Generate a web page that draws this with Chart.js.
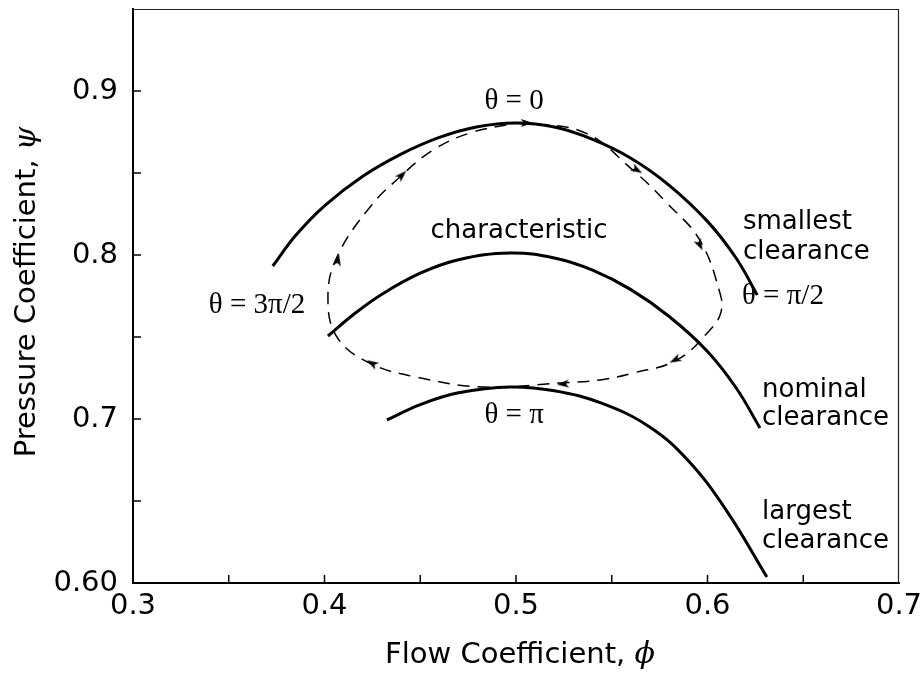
<!DOCTYPE html>
<html><head><meta charset="utf-8">
<script src="https://cdn.jsdelivr.net/npm/chart.js@4.4.1/dist/chart.umd.min.js"></script>
<style>html,body{margin:0;padding:0;background:#fff;}#wrap{width:923px;height:677px;}</style>
</head><body><div id="wrap"><canvas id="c" width="923" height="677"></canvas></div>
<script>
// ---- data ----
const smallestX = [0.373, 0.385, 0.40, 0.42, 0.44, 0.46, 0.48, 0.50, 0.52, 0.54, 0.56, 0.58, 0.60, 0.615, 0.626];
const smallestY = [0.7933, 0.812, 0.830, 0.848, 0.8615, 0.8717, 0.8782, 0.8805, 0.878, 0.8705, 0.859, 0.8425, 0.8205, 0.798, 0.7756];

const nominalX = [0.4018, 0.415, 0.43, 0.45, 0.47, 0.4969, 0.52, 0.54, 0.56, 0.58, 0.60, 0.615, 0.6274];
const nominalY = [0.7506, 0.7636, 0.7761, 0.7889, 0.7971, 0.8012, 0.7982, 0.7908, 0.7789, 0.7625, 0.7412, 0.7189, 0.6945];

const largestX = [0.4326, 0.45, 0.47, 0.4969, 0.52, 0.545, 0.57, 0.59, 0.61, 0.631];
const largestY = [0.6994, 0.7088, 0.716, 0.7195, 0.7172, 0.7095, 0.695, 0.6745, 0.644, 0.6037];

const loopX = [0.5005, 0.535, 0.561, 0.5788, 0.596, 0.6065, 0.607, 0.6013, 0.584, 0.561, 0.5439, 0.523, 0.4828, 0.448, 0.4238, 0.4065, 0.4018, 0.4065, 0.4238, 0.4394, 0.4567, 0.476, 0.5005];
const loopY = [0.8805, 0.875, 0.8518, 0.8317, 0.809, 0.7768, 0.765, 0.7543, 0.736, 0.728, 0.7238, 0.722, 0.7195, 0.7256, 0.734, 0.75, 0.7744, 0.7988, 0.8293, 0.8476, 0.864, 0.8744, 0.8805];

const arrowX = [0.5057, 0.5632, 0.596, 0.583, 0.5245, 0.4248, 0.407, 0.4405];
const arrowY = [0.8805, 0.8518, 0.8061, 0.736, 0.7213, 0.734, 0.797, 0.8488];
const arrowDir = [90, 121, 153, 243, 265, 301, 10, 45];

const xTickLabels = {"0.3": "0.3", "0.4": "0.4", "0.5": "0.5", "0.6": "0.6", "0.7": "0.7"};
const yTickLabels = {"0.6": "0.60", "0.7": "0.7", "0.8": "0.8", "0.9": "0.9"};

const xTitle = ['Flow Coefficient, ', 'ϕ'];
const yTitle = ['Pressure Coefficient, ', 'ψ'];

// ---- annotations ----
const SERIF = '29px "Liberation Serif", "DejaVu Serif", serif';
const SANS = '26px "DejaVu Sans", sans-serif';
const notes = [
  {t: 'θ = 0', x: 0.499, y: 0.8939, f: SERIF, a: 'center'},
  {t: 'θ = 3π/2', x: 0.3648, y: 0.7695, f: SERIF, a: 'center'},
  {t: 'θ = π/2', x: 0.6394, y: 0.775, f: SERIF, a: 'center'},
  {t: 'θ = π', x: 0.499, y: 0.7024, f: SERIF, a: 'center'},
  {t: 'characteristic', x: 0.5016, y: 0.8146, f: SANS, a: 'center'},
  {t: 'smallest', x: 0.6185, y: 0.8201, f: SANS, a: 'left'},
  {t: 'clearance', x: 0.6185, y: 0.8018, f: SANS, a: 'left'},
  {t: 'nominal', x: 0.6285, y: 0.7177, f: SANS, a: 'left'},
  {t: 'clearance', x: 0.6285, y: 0.7006, f: SANS, a: 'left'},
  {t: 'largest', x: 0.6285, y: 0.6433, f: SANS, a: 'left'},
  {t: 'clearance', x: 0.6285, y: 0.6256, f: SANS, a: 'left'}
];

function pts(xs, ys) { return xs.map((x, i) => ({x: x, y: ys[i]})); }

function arrowImg() {
  const c = document.createElement('canvas');
  c.width = 14; c.height = 14;
  const g = c.getContext('2d');
  g.fillStyle = '#000';
  g.beginPath();
  g.moveTo(7, 1); g.lineTo(11, 13); g.lineTo(7, 10); g.lineTo(3, 13);
  g.closePath(); g.fill();
  return c;
}

const TITLE_FONT = '29px "DejaVu Sans", sans-serif';
const TITLE_SYM = 'italic 30px "DejaVu Serif", serif';

function drawMixed(ctx, parts, cx, cy) {
  ctx.font = TITLE_FONT;
  const w0 = ctx.measureText(parts[0]).width;
  ctx.font = TITLE_SYM;
  const w1 = ctx.measureText(parts[1]).width;
  const start = cx - (w0 + w1) / 2;
  ctx.textAlign = 'left';
  ctx.textBaseline = 'middle';
  ctx.font = TITLE_FONT;
  ctx.fillText(parts[0], start, cy);
  ctx.font = TITLE_SYM;
  ctx.fillText(parts[1], start + w0, cy);
}

const frameAndTicks = {
  id: 'frameAndTicks',
  afterDatasetsDraw(chart) {
    const {ctx, chartArea: a, scales: {x, y}} = chart;
    ctx.save();
    ctx.strokeStyle = '#000';
    ctx.lineWidth = 1.5;
    x.ticks.forEach(t => {
      const px = x.getPixelForValue(t.value);
      if (px <= a.left + 1 || px >= a.right - 1) return;
      ctx.beginPath(); ctx.moveTo(px, a.bottom); ctx.lineTo(px, a.bottom - 8); ctx.stroke();
    });
    y.ticks.forEach(t => {
      const py = y.getPixelForValue(t.value);
      if (py <= a.top + 1 || py >= a.bottom - 1) return;
      ctx.beginPath(); ctx.moveTo(a.left, py); ctx.lineTo(a.left + 8, py); ctx.stroke();
    });
    ctx.lineWidth = 1.2;
    ctx.strokeStyle = '#222';
    ctx.beginPath();
    ctx.moveTo(a.left, a.top + 0.5); ctx.lineTo(a.right - 0.5, a.top + 0.5); ctx.lineTo(a.right - 0.5, a.bottom);
    ctx.stroke();
    // annotations
    ctx.fillStyle = '#000';
    ctx.textBaseline = 'middle';
    notes.forEach(n => {
      ctx.font = n.f;
      ctx.textAlign = n.a;
      ctx.fillText(n.t, x.getPixelForValue(n.x), y.getPixelForValue(n.y));
    });
    // axis titles
    drawMixed(ctx, xTitle, (a.left + a.right) / 2 + 4, 655);
    ctx.save();
    ctx.translate(27, (a.top + a.bottom) / 2 - 4);
    ctx.rotate(-Math.PI / 2);
    drawMixed(ctx, yTitle, 0, 0);
    ctx.restore();
    ctx.restore();
  }
};

const solid = {showLine: true, borderColor: '#000', borderWidth: 3, pointRadius: 0, fill: false, tension: 0.4};

new Chart(document.getElementById('c'), {
  type: 'scatter',
  data: {
    datasets: [
      Object.assign({label: 'smallest clearance', data: pts(smallestX, smallestY)}, solid),
      Object.assign({label: 'nominal clearance', data: pts(nominalX, nominalY)}, solid),
      Object.assign({label: 'largest clearance', data: pts(largestX, largestY)}, solid),
      {label: 'loop', data: pts(loopX, loopY), showLine: true, borderColor: '#000', borderWidth: 1.5,
       borderDash: [12, 8], pointRadius: 0, tension: 0.4, fill: false},
      {label: 'arrows', data: pts(arrowX, arrowY), showLine: false, pointStyle: arrowImg(),
       pointRotation: arrowDir, pointRadius: 6, pointHoverRadius: 6}
    ]
  },
  options: {
    responsive: false,
    animation: false,
    devicePixelRatio: 1,
    layout: {padding: {top: 9, right: 24, bottom: 0, left: 0}},
    plugins: {legend: {display: false}, tooltip: {enabled: false}},
    events: [],
    scales: {
      x: {
        type: 'linear', min: 0.3, max: 0.7,
        grid: {display: false, drawTicks: false},
        border: {display: true, color: '#000', width: 2},
        ticks: {
          stepSize: 0.05, autoSkip: false, maxRotation: 0, padding: 6, color: '#000',
          font: {family: '"DejaVu Sans", sans-serif', size: 29},
          callback: v => xTickLabels[String(Math.round(v * 100) / 100)] || ''
        },
        title: {display: false},
        afterFit: s => { s.height = 94; s.paddingLeft = 0; s.paddingRight = 0; }
      },
      y: {
        type: 'linear', min: 0.6, max: 0.95,
        grid: {display: false, drawTicks: false},
        border: {display: true, color: '#000', width: 2},
        ticks: {
          stepSize: 0.05, autoSkip: false, padding: 15, color: '#000',
          font: {family: '"DejaVu Sans", sans-serif', size: 29},
          callback: v => yTickLabels[String(Math.round(v * 100) / 100)] || ''
        },
        title: {display: false},
        afterFit: s => { s.width = 133; s.paddingTop = 0; s.paddingBottom = 0; }
      }
    }
  },
  plugins: [frameAndTicks]
});
</script>
</body></html>
